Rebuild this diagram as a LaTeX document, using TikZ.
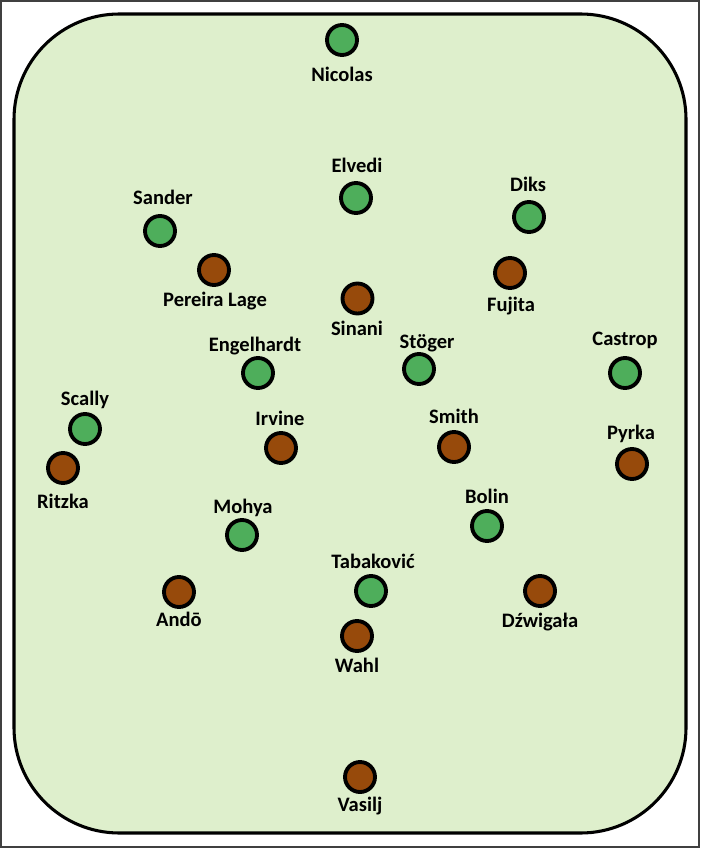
\documentclass[tikz,border=0pt]{standalone}
\usepackage{fontspec}
\setmainfont{Carlito}
\definecolor{pitch}{HTML}{DEEFCC}
\definecolor{teamA}{HTML}{4EAE5B}
\definecolor{teamB}{HTML}{974A0B}
\tikzset{
  playerA/.style={circle, draw=black, line width=2.9pt, fill=teamA, minimum size=30*0.75pt, inner sep=0pt},
  playerB/.style={circle, draw=black, line width=2.9pt, fill=teamB, minimum size=30*0.75pt, inner sep=0pt},
  pname/.style={anchor=base, inner sep=0pt, font=\fontsize{15.4pt}{18pt}\selectfont\bfseries, text=black}
}
\begin{document}
\begin{tikzpicture}[x=0.75pt,y=-0.75pt]
\useasboundingbox (0,0) rectangle (700,848);
\draw[black!75, line width=1.1pt] (0.8,0.8) rectangle (699.2,847.2);
\draw[black, line width=2.3pt, fill=pitch, rounded corners=79pt] (14,14) rectangle (686,833);
% players
\node[playerA] (nicolas) at (342,40) {};
\node[pname] (nicolasL) at (342,81.5) {Nicolas};
\node[playerA] (elvedi) at (356,198) {};
\node[pname] (elvediL) at (357,173) {Elvedi};
\node[playerA] (sander) at (160,231) {};
\node[pname] (sanderL) at (163,205) {Sander};
\node[playerA] (diks) at (529,217) {};
\node[pname] (diksL) at (528,191.7) {Diks};
\node[playerB] (pereira) at (214,270) {};
\node[pname] (pereiraL) at (215,306) {Pereira Lage};
\node[playerB] (fujita) at (510,273) {};
\node[pname] (fujitaL) at (511,311.7) {Fujita};
\node[playerB] (sinani) at (357.5,298.5) {};
\node[pname] (sinaniL) at (357,335.7) {Sinani};
\node[playerA] (engelhardt) at (258,373) {};
\node[pname] (engelhardtL) at (255,351.6) {Engelhardt};
\node[playerA] (stoger) at (419,369) {};
\node[pname] (stogerL) at (427,348) {Stöger};
\node[playerA] (castrop) at (625,373) {};
\node[pname] (castropL) at (625,345.6) {Castrop};
\node[playerA] (scally) at (85,429) {};
\node[pname] (scallyL) at (85,405) {Scally};
\node[playerB] (ritzka) at (63,468) {};
\node[pname] (ritzkaL) at (63,508) {Ritzka};
\node[playerB] (irvine) at (281,448) {};
\node[pname] (irvineL) at (280,425) {Irvine};
\node[playerB] (smith) at (454,447) {};
\node[pname] (smithL) at (454,423) {Smith};
\node[playerB] (pyrka) at (632,464) {};
\node[pname] (pyrkaL) at (631,439) {Pyrka};
\node[playerA] (bolin) at (487,526) {};
\node[pname] (bolinL) at (487,503) {Bolin};
\node[playerA] (mohya) at (242,535) {};
\node[pname] (mohyaL) at (243,513) {Mohya};
\node[playerA] (tabakovic) at (371,591) {};
\node[pname] (tabakovicL) at (373,568) {Tabaković};
\node[playerB] (ando) at (179,592) {};
\node[pname] (andoL) at (179,626) {Andō};
\node[playerB] (dzwigala) at (540,591) {};
\node[pname] (dzwigalaL) at (540,627) {Dźwigała};
\node[playerB] (wahl) at (357,636) {};
\node[pname] (wahlL) at (357,672.7) {Wahl};
\node[playerB] (vasilj) at (360,777) {};
\node[pname] (vasiljL) at (360,811.7) {Vasilj};
\end{tikzpicture}
\end{document}
